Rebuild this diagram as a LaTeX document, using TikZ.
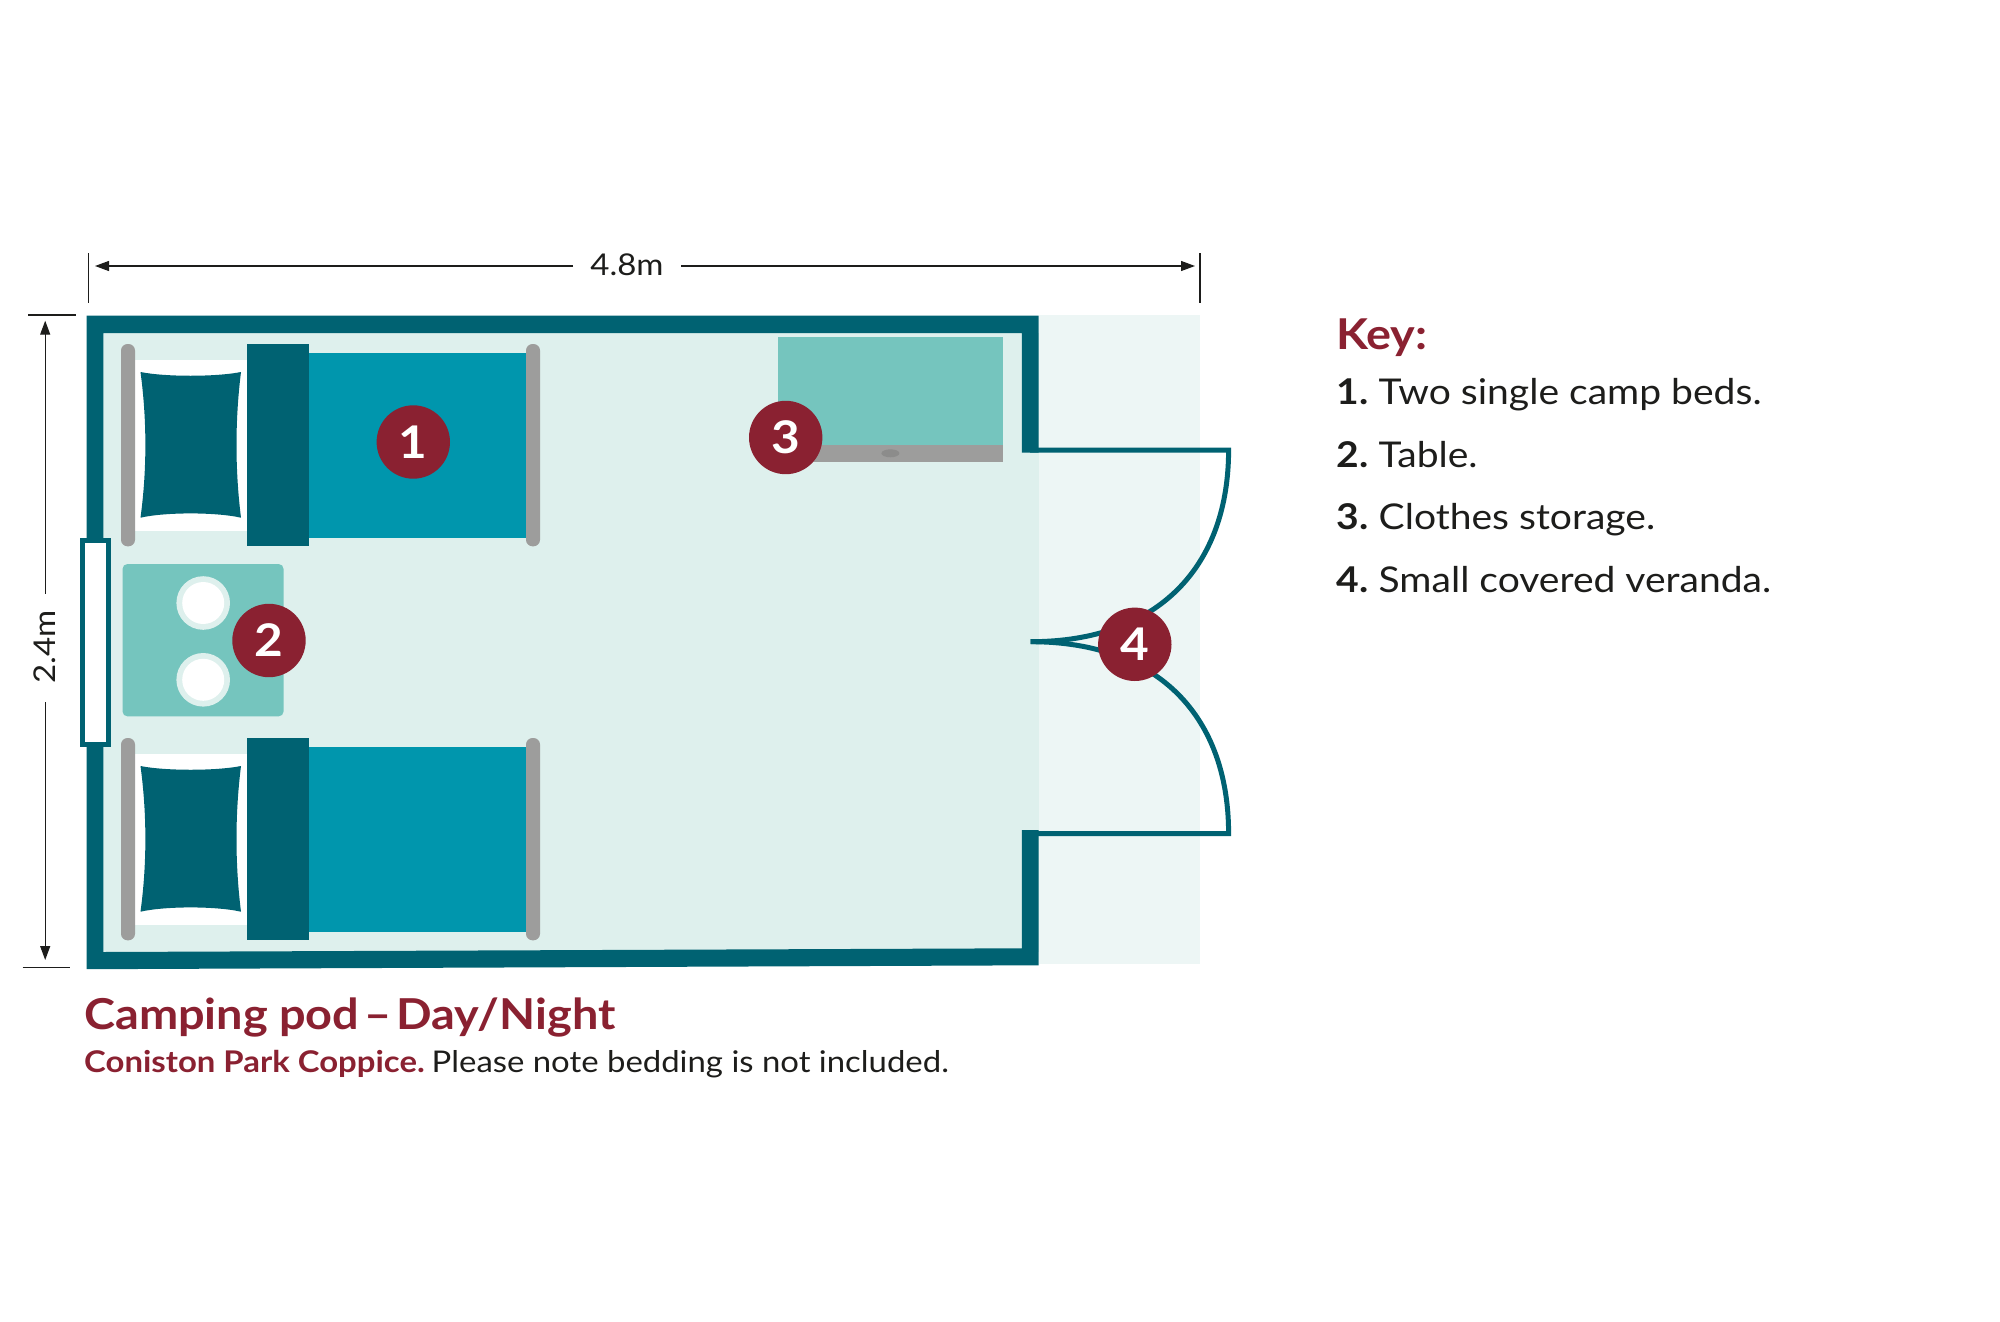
\documentclass[tikz,border=0pt]{standalone}
\usepackage{fontspec}
\setmainfont{Lato}[FakeStretch=1.1]
\usetikzlibrary{arrows.meta}
\definecolor{wallc}{HTML}{006272}
\definecolor{bedc}{HTML}{0096AD}
\definecolor{tablec}{HTML}{75C5BE}
\definecolor{railc}{HTML}{9D9D9C}
\definecolor{knobc}{HTML}{8C8C8B}
\definecolor{floorc}{HTML}{DEF0ED}
\definecolor{verandac}{HTML}{EDF6F5}
\definecolor{maroon}{HTML}{8A2131}
\definecolor{inkc}{HTML}{1D1D1B}
\tikzset{
  x=1pt,y=-1pt,
  wallfill/.style={fill=wallc,draw=none},
  rail/.style={fill=railc,draw=none,rounded corners=6.5pt},
  dimline/.style={draw=inkc,line width=1.2pt,-{Triangle[length=14pt,width=10pt]}},
  dimtick/.style={draw=inkc,line width=1.2pt},
  doorline/.style={draw=wallc,line width=5pt,line join=miter},
  badge/.style={circle,fill=maroon,text=white,minimum size=73.4pt,inner sep=0pt,font=\fontsize{45}{45}\selectfont\bfseries},
  dimtext/.style={inner sep=0pt,text=inkc,font=\fontsize{30}{30}\selectfont},
  keyhead/.style={anchor=base west,inner sep=0pt,text=maroon,font=\fontsize{42.5}{42.5}\selectfont\bfseries},
  keyitem/.style={anchor=base west,inner sep=0pt,text=inkc,font=\fontsize{35.5}{40}\selectfont},
  titletext/.style={anchor=base west,inner sep=0pt,text=maroon,font=\fontsize{42.6}{45}\selectfont\bfseries},
  subtext/.style={anchor=base west,inner sep=0pt,text=inkc,font=\fontsize{29.9}{36}\selectfont},
}
\begin{document}
\begin{tikzpicture}
\useasboundingbox (0,0) rectangle (2000,1322);
% floor and veranda
\fill[verandac] (1038.7,315) rectangle (1200,964);
\fill[floorc] (103,333) rectangle (1038.7,952);
% beds
\foreach \dy in {0,394}{
\begin{scope}[yshift=-\dy pt]
  \fill[white] (135,360) rectangle (246.5,530.7);
  \fill[wallc] (140.5,372) .. controls (165,377) and (216,377) .. (241,372)
     .. controls (235,420) and (235,470) .. (241,517.7)
     .. controls (216,512) and (165,512) .. (140.5,517.7)
     .. controls (147,470) and (147,420) .. (140.5,372) -- cycle;
  \fill[bedc] (309.2,352.7) rectangle (527.4,537.7);
  \fill[wallc] (246.5,344) rectangle (309.2,546.3);
  \fill[rail] (121,344) rectangle (135,546.3);
  \fill[rail] (526,344) rectangle (540,546.3);
\end{scope}
}
% table
\fill[tablec,rounded corners=5pt] (122.5,564) rectangle (283.6,716.4);
\foreach \py in {603,679.8}{
  \fill[floorc] (203.2,\py) circle (26.8);
  \fill[white] (203.2,\py) circle (21);
}
% storage
\fill[tablec] (777.9,336.7) rectangle (1002.9,445);
\fill[railc] (777.9,445) rectangle (1002.9,462);
\fill[knobc] (890.4,453.3) ellipse (9 and 4);
% walls
\fill[wallfill] (86.5,315.7) -- (1038.7,315.7) -- (1038.7,452.7) -- (1021.8,452.7) -- (1021.8,333)
  -- (103.3,333) -- (103.3,952) -- (1021.8,948.3) -- (1021.8,830) -- (1038.7,830)
  -- (1038.7,965.3) -- (86.5,969.2) -- cycle;
% window
\fill[wallc] (79.6,538.2) rectangle (111.4,747);
\fill[white] (85,543.3) rectangle (106,742.4);
% doors
\draw[doorline] (1030,450) -- (1228.6,450) .. controls (1228.6,565) and (1160,641.7) .. (1030.7,641.7);
\draw[doorline] (1030,833.5) -- (1228.6,833.5) .. controls (1228.6,718) and (1160,641.7) .. (1030.7,641.7);
% dimensions
\coordinate (t1a) at (88.8,253.3);
\coordinate (t1b) at (88.8,303.3);
\coordinate (t2a) at (1200,253.3);
\coordinate (t2b) at (1200,303.3);
\coordinate (l1a) at (28,315);
\coordinate (l1b) at (76,315);
\coordinate (l2a) at (22.6,967.3);
\coordinate (l2b) at (70.4,967.3);
\draw[dimtick] (t1a) -- (t1b);
\draw[dimtick] (t2a) -- (t2b);
\draw[dimtick] (l1a) -- (l1b);
\draw[dimtick] (l2a) -- (l2b);
\node[dimtext,anchor=base] (wlabel) at (627,275) {4.8m};
\node[dimtext,anchor=base,rotate=90] (hlabel) at (55,647) {2.4m};
\coordinate (wL) at (95,266);
\coordinate (wLs) at (573,266);
\coordinate (wR) at (1195,266);
\coordinate (wRs) at (681,266);
\coordinate (hT) at (45.2,320.7);
\coordinate (hTs) at (45.2,593.6);
\coordinate (hB) at (45.2,960);
\coordinate (hBs) at (45.2,702);
\draw[dimline] (wLs) -- (wL);
\draw[dimline] (wRs) -- (wR);
\draw[dimline] (hTs) -- (hT);
\draw[dimline] (hBs) -- (hB);
% badges
\node[badge] (b1) at (413.3,442) {1};
\node[badge] (b2) at (269,640.5) {2};
\node[badge] (b3) at (785.7,437.5) {3};
\node[badge] (b4) at (1134.8,644.3) {4};
% key
\node[keyhead] (key) at (1336,349) {Key:};
\node[keyitem] (k1) at (1336.5,404.6) {\textbf{1.}};
\node[keyitem] (k1t) at (1378.5,404.6) {Two single camp beds.};
\node[keyitem] (k2) at (1336.5,467.5) {\textbf{2.}};
\node[keyitem] (k2t) at (1378.5,467.5) {Table.};
\node[keyitem] (k3) at (1336.5,529.7) {\textbf{3.}};
\node[keyitem] (k3t) at (1378.5,529.7) {Clothes storage.};
\node[keyitem] (k4) at (1336.5,592) {\textbf{4.}};
\node[keyitem] (k4t) at (1378.5,592) {Small covered veranda.};
% caption
\node[titletext] (title) at (84,1029.3) {Camping pod\hspace{5pt}–\hspace{5pt}Day/Night};
\node[subtext] (sub) at (84,1072.7) {\textcolor{maroon}{\bfseries Coniston Park Coppice.}\hspace{7pt}Please note bedding is not included.};
\end{tikzpicture}
\end{document}
